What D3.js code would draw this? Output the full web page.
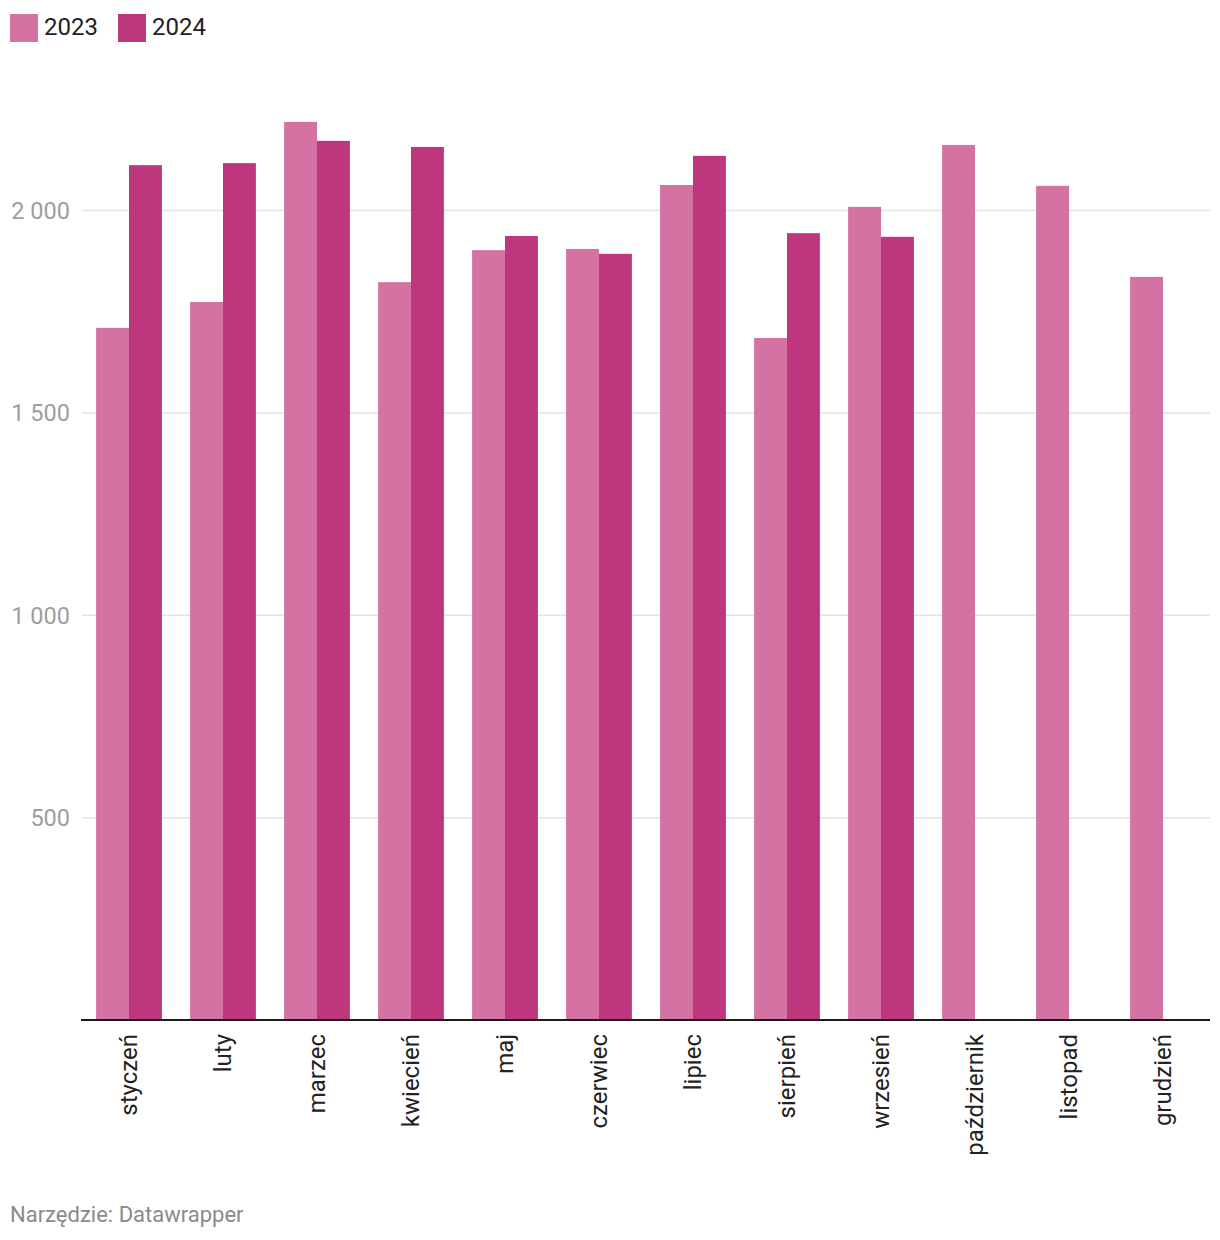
<!DOCTYPE html>
<html><head><meta charset="utf-8">
<script src="https://cdn.jsdelivr.net/npm/d3@7"></script>
<style>
html,body{margin:0;padding:0;background:#fff;}
svg text{font-family:Roboto,"Noto Sans",sans-serif;}
</style></head>
<body>
<svg id="chart" width="1220" height="1240"></svg>
<script>
const months = ["styczeń","luty","marzec","kwiecień","maj","czerwiec","lipiec","sierpień","wrzesień","październik","listopad","grudzień"];
const seriesNames = ["2023","2024"];
const values2023 = [1710,1774,2219,1823,1902,1905,2063,1685,2009,2162,2061,1836];
const values2024 = [2112,2117,2172,2157,1937,1893,2135,1944,1935,null,null,null];
const yTicks = [500,1000,1500,2000];
const colors = ["#d372a3","#be377c"];
const sourceText = "Narzędzie: Datawrapper";

const svg = d3.select("#chart");
const locale = d3.formatLocale({decimal:",",thousands:"\u00a0",grouping:[3],currency:["","zł"]});
const fmt = locale.format(",d");

const x0 = d3.scaleBand().domain(months).range([82,1210]).paddingInner(0.3).paddingOuter(0.15);
const x1 = d3.scaleBand().domain(seriesNames).range([0,x0.bandwidth()]);
const y = d3.scaleLinear().domain([0,2000]).range([1020,210.5]);
const color = d3.scaleOrdinal().domain(seriesNames).range(colors);

// gridlines
svg.append("g").selectAll("line").data(yTicks).join("line")
  .attr("x1",82).attr("x2",1210)
  .attr("y1",d=>y(d)).attr("y2",d=>y(d))
  .attr("stroke","#e3e3e3").attr("stroke-width",1.5);

// y tick labels
svg.append("g").selectAll("text").data(yTicks).join("text")
  .attr("x",70).attr("y",d=>y(d)).attr("dy","0.36em")
  .attr("text-anchor","end").attr("font-size",23.5).attr("fill","#9e9e9e")
  .text(d=>fmt(d));

// bars
const rows = months.map((m,i)=>({month:m, vals:[{k:"2023",v:values2023[i]},{k:"2024",v:values2024[i]}]}));
const grp = svg.append("g").selectAll("g").data(rows).join("g")
  .attr("transform",d=>`translate(${x0(d.month)},0)`);
grp.selectAll("rect").data(d=>d.vals.filter(e=>e.v!=null)).join("rect")
  .attr("x",d=>x1(d.k)).attr("width",x1.bandwidth())
  .attr("y",d=>y(d.v)).attr("height",d=>y(0)-y(d.v))
  .attr("fill",d=>color(d.k));

// baseline
svg.append("line").attr("x1",81).attr("x2",1210).attr("y1",y(0)).attr("y2",y(0))
  .attr("stroke","#1a1a1a").attr("stroke-width",2);

// x labels rotated
svg.append("g").selectAll("text").data(months).join("text")
  .attr("transform",d=>`translate(${x0(d)+x0.bandwidth()/2},1034) rotate(-90)`)
  .attr("dy","0.35em").attr("text-anchor","end")
  .attr("font-size",24).attr("fill","#222")
  .text(d=>d);

// legend
const leg = svg.append("g").selectAll("g").data(seriesNames).join("g")
  .attr("transform",(d,i)=>`translate(${10+i*108},14)`);
leg.append("rect").attr("width",28).attr("height",28).attr("fill",d=>color(d));
leg.append("text").attr("x",34).attr("y",12).attr("dy","0.36em")
  .attr("font-size",24).attr("fill","#222").text(d=>d);

// source
svg.append("text").attr("x",10).attr("y",1222).attr("font-size",22).attr("fill","#8a8a8a").text(sourceText);
</script>
</body></html>
